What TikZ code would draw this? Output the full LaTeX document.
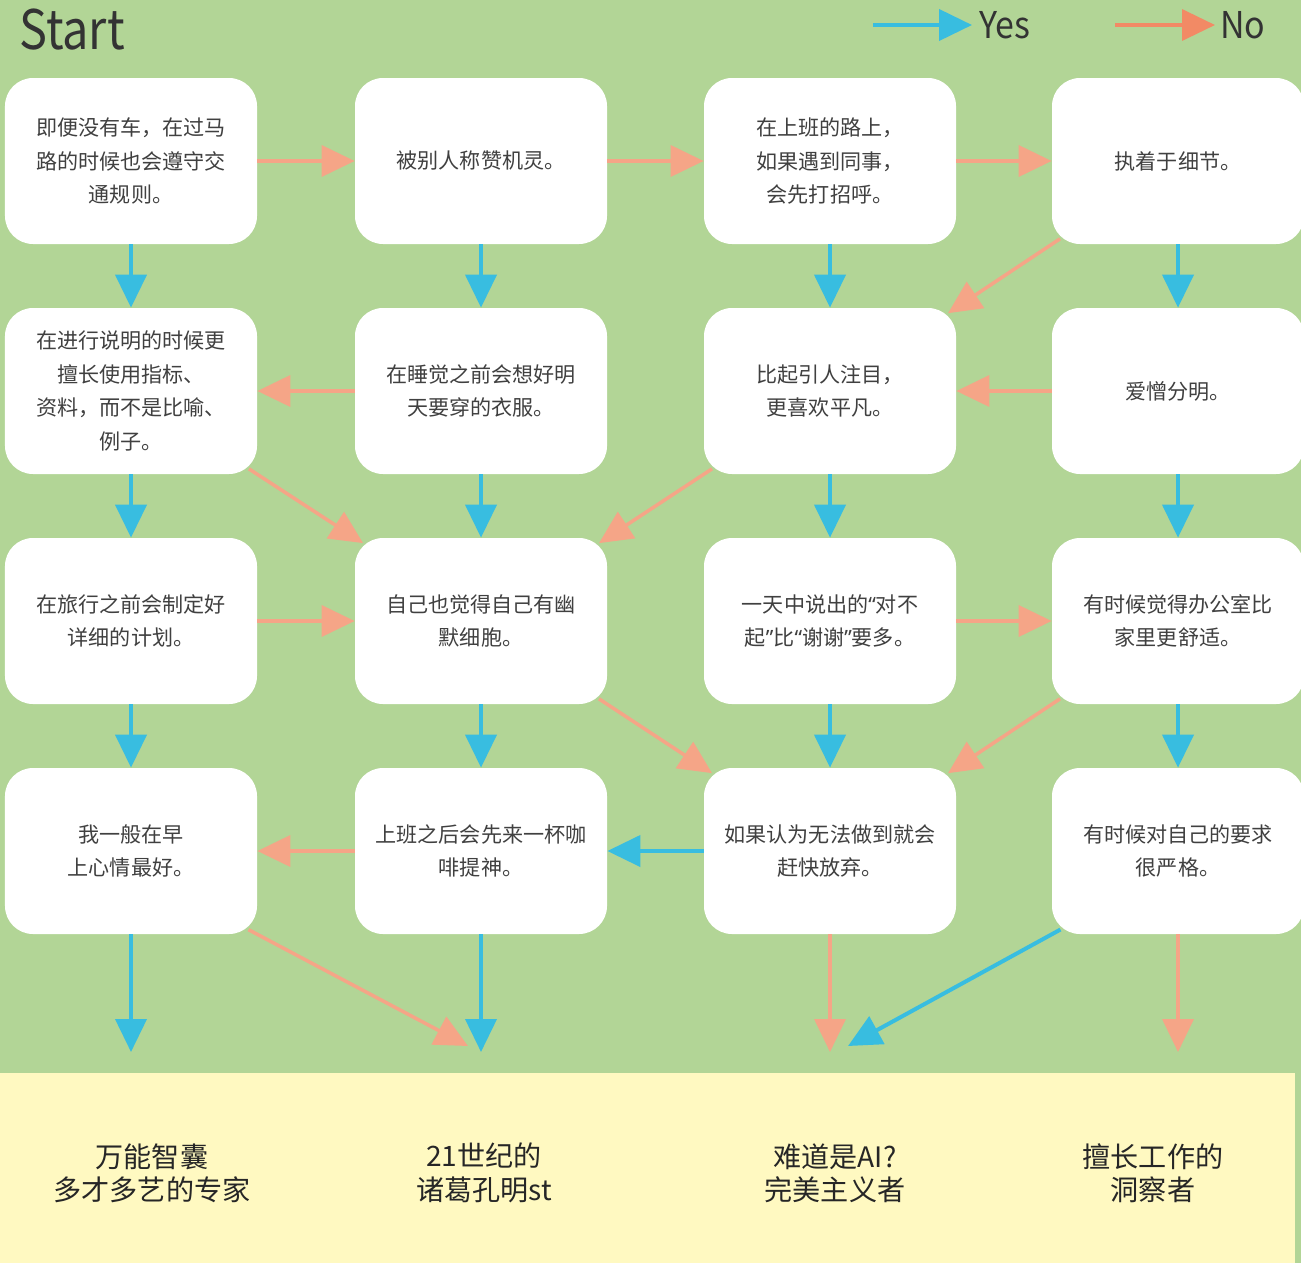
\documentclass[tikz,border=0pt]{standalone}
\usepackage{fontspec}
\setmainfont{Noto Sans CJK SC}
\newfontfamily\latinq{Noto Sans}
\usepackage{xcolor}
\usepackage{tikz}
\usetikzlibrary{arrows.meta}
\definecolor{bggreen}{HTML}{B2D596}
\definecolor{resultyellow}{HTML}{FFF9C1}
\definecolor{yescolor}{HTML}{38BDE0}
\definecolor{nocolor}{HTML}{F5A587}
\definecolor{legendno}{HTML}{F28A65}
\tikzset{question/.style={fill=white,rounded corners=5.6mm,minimum width=50.4mm,minimum height=33.2mm,inner sep=2pt,align=center,text=black!75,font=\fontsize{12}{19}\selectfont},result/.style={align=center,text=black!85,font=\fontsize{16}{19}\selectfont},yes edge/.style={-{Triangle[length=6.6mm,width=6.2mm]},draw=yescolor,line width=0.8mm},no edge/.style={-{Triangle[length=6.6mm,width=6.2mm]},draw=nocolor,line width=0.7mm},corner edge/.style={shorten <=-2mm,shorten >=-2mm},legend label/.style={anchor=west,inner sep=0pt,text=black!80,font=\fontsize{21}{24}\selectfont}}
\begin{document}
\begin{tikzpicture}[x=0.2mm,y=-0.2mm]
 \fill[bggreen] (0,0) rectangle (1301,1263);
 \useasboundingbox (0,0) rectangle (1301,1263);
 \fill[resultyellow] (0,1073) rectangle (1295,1263);
 \node[anchor=west,inner sep=0pt,text=black!80,font=\fontsize{31}{34}\selectfont] (start) at (19,30) {\scalebox{0.86}[1]{Start}};
 \coordinate (yes from) at (873,25);
 \coordinate (yes to) at (972,25);
 \node[legend label] (yes label) at (979,25) {\scalebox{0.92}[1]{Yes}};
 \coordinate (no from) at (1115,25);
 \coordinate (no to) at (1215,25);
 \node[legend label] (no label) at (1220,25) {\scalebox{0.92}[1]{No}};
 \draw[yes edge,draw=yescolor] (yes from) -- (yes to);
 \draw[no edge,draw=legendno] (no from) -- (no to);
 \node[question] (q11) at (131,161) {即便没有车，在过马\\路的时候也会遵守交\\通规则。};
 \node[question] (q12) at (481,161) {被别人称赞机灵。};
 \node[question] (q13) at (830,161) {在上班的路上，\\如果遇到同事，\\会先打招呼。};
 \node[question] (q14) at (1178,161) {执着于细节。};
 \node[question] (q21) at (131,391) {在进行说明的时候更\\擅长使用指标、\\资料，而不是比喻、\\例子。};
 \node[question] (q22) at (481,391) {在睡觉之前会想好明\\天要穿的衣服。};
 \node[question] (q23) at (830,391) {比起引人注目，\\更喜欢平凡。};
 \node[question] (q24) at (1178,391) {爱憎分明。};
 \node[question] (q31) at (131,621) {在旅行之前会制定好\\详细的计划。};
 \node[question] (q32) at (481,621) {自己也觉得自己有幽\\默细胞。};
 \node[question] (q33) at (830,621) {一天中说出的{\latinq “}对不\\起{\latinq ”}比{\latinq “}谢谢{\latinq ”}要多。};
 \node[question] (q34) at (1178,621) {有时候觉得办公室比\\家里更舒适。};
 \node[question] (q41) at (131,851) {我一般在早\\上心情最好。};
 \node[question] (q42) at (481,851) {上班之后会先来一杯咖\\啡提神。};
 \node[question] (q43) at (830,851) {如果认为无法做到就会\\赶快放弃。};
 \node[question] (q44) at (1178,851) {有时候对自己的要求\\很严格。};
 \node[result] (r1) at (152,1173) {万能智囊\\多才多艺的专家};
 \node[result] (r2) at (484,1173) {21世纪的\\诸葛孔明st};
 \node[result] (r3) at (835,1173) {难道是AI?\\完美主义者};
 \node[result] (r4) at (1153,1173) {擅长工作的\\洞察者};
 \coordinate (b1) at (131,1052);
 \coordinate (b2) at (481,1052);
 \coordinate (b2n) at (468,1046);
 \coordinate (b3) at (830,1052);
 \coordinate (b3y) at (848,1046);
 \coordinate (b4) at (1178,1052);
 \foreach \c in {1,...,4} {
   \foreach \r/\n in {1/2,2/3,3/4} \draw[yes edge] (q\r\c) -- (q\n\c);
 }
 \draw[yes edge] (q41) -- (b1);
 \draw[yes edge] (q42) -- (b2);
 \draw[yes edge] (q43) -- (q42);
 \draw[yes edge,shorten <=-2mm] (q44.south west) -- (b3y);
 \draw[no edge] (q11) -- (q12);
 \draw[no edge] (q12) -- (q13);
 \draw[no edge] (q13) -- (q14);
 \draw[no edge,corner edge] (q14.south west) -- (q23.north east);
 \draw[no edge] (q22) -- (q21);
 \draw[no edge] (q24) -- (q23);
 \draw[no edge,corner edge] (q21.south east) -- (q32.north west);
 \draw[no edge,corner edge] (q23.south west) -- (q32.north east);
 \draw[no edge] (q31) -- (q32);
 \draw[no edge] (q33) -- (q34);
 \draw[no edge,corner edge] (q32.south east) -- (q43.north west);
 \draw[no edge,corner edge] (q34.south west) -- (q43.north east);
 \draw[no edge] (q42) -- (q41);
 \draw[no edge,shorten <=-2mm] (q41.south east) -- (b2n);
 \draw[no edge] (q43) -- (b3);
 \draw[no edge] (q44) -- (b4);
\end{tikzpicture}
\end{document}
